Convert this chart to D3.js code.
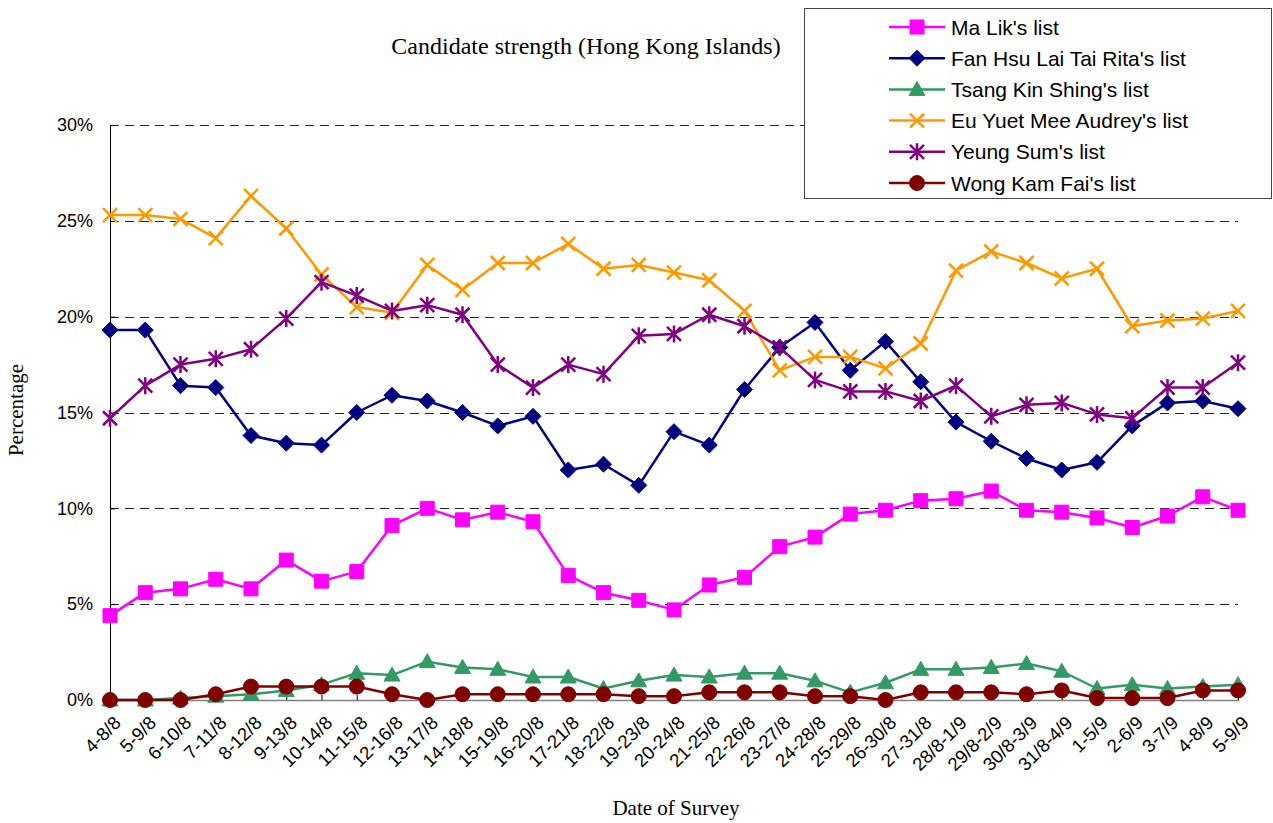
<!DOCTYPE html>
<html><head><meta charset="utf-8">
<script src="https://cdn.jsdelivr.net/npm/d3@7"></script>
<style>body{margin:0;background:#fff}svg{display:block}</style>
</head><body>
<svg id="chart" width="1273" height="823"></svg>
<script>
const categories = ["4-8/8","5-9/8","6-10/8","7-11/8","8-12/8","9-13/8","10-14/8","11-15/8","12-16/8","13-17/8","14-18/8","15-19/8","16-20/8","17-21/8","18-22/8","19-23/8","20-24/8","21-25/8","22-26/8","23-27/8","24-28/8","25-29/8","26-30/8","27-31/8","28/8-1/9","29/8-2/9","30/8-3/9","31/8-4/9","1-5/9","2-6/9","3-7/9","4-8/9","5-9/9"];
const maLik   = [4.4,5.6,5.8,6.3,5.8,7.3,6.2,6.7,9.1,10.0,9.4,9.8,9.3,6.5,5.6,5.2,4.7,6.0,6.4,8.0,8.5,9.7,9.9,10.4,10.5,10.9,9.9,9.8,9.5,9.0,9.6,10.6,9.9];
const fanHsu  = [19.3,19.3,16.4,16.3,13.8,13.4,13.3,15.0,15.9,15.6,15.0,14.3,14.8,12.0,12.3,11.2,14.0,13.3,16.2,18.4,19.7,17.2,18.7,16.6,14.5,13.5,12.6,12.0,12.4,14.3,15.5,15.6,15.2];
const tsang   = [0.0,0.0,0.1,0.2,0.3,0.5,0.8,1.4,1.3,2.0,1.7,1.6,1.2,1.2,0.6,1.0,1.3,1.2,1.4,1.4,1.0,0.4,0.9,1.6,1.6,1.7,1.9,1.5,0.6,0.8,0.6,0.7,0.8];
const euYuet  = [25.3,25.3,25.1,24.1,26.3,24.6,22.2,20.5,20.2,22.7,21.4,22.8,22.8,23.8,22.5,22.7,22.3,21.9,20.3,17.2,17.9,17.9,17.3,18.6,22.4,23.4,22.8,22.0,22.5,19.5,19.8,19.9,20.3];
const yeungSum= [14.7,16.4,17.5,17.8,18.3,19.9,21.8,21.1,20.3,20.6,20.1,17.5,16.3,17.5,17.0,19.0,19.1,20.1,19.5,18.4,16.7,16.1,16.1,15.6,16.4,14.8,15.4,15.5,14.9,14.7,16.3,16.3,17.6];
const wong    = [0.0,0.0,0.0,0.3,0.7,0.7,0.7,0.7,0.3,0.0,0.3,0.3,0.3,0.3,0.3,0.2,0.2,0.4,0.4,0.4,0.2,0.2,0.0,0.4,0.4,0.4,0.3,0.5,0.1,0.1,0.1,0.5,0.5];
const seriesNames = ["Ma Lik's list","Fan Hsu Lai Tai Rita's list","Tsang Kin Shing's list","Eu Yuet Mee Audrey's list","Yeung Sum's list","Wong Kam Fai's list"];
const yTicks = [0,5,10,15,20,25,30];
const yTickLabels = ["0%","5%","10%","15%","20%","25%","30%"];
const titleText = "Candidate strength (Hong Kong Islands)";
const xTitle = "Date of Survey";
const yTitle = "Percentage";

const seriesValues = [maLik, fanHsu, tsang, euYuet, yeungSum, wong];
const styles = [
  {color:"#FF00FF", marker:"square"},
  {color:"#000080", marker:"diamond"},
  {color:"#339966", marker:"triangle"},
  {color:"#FF9900", marker:"x"},
  {color:"#800080", marker:"star"},
  {color:"#800000", marker:"circle"}
];

const svg = d3.select("#chart");
const L = 110, R = 1238, T = 125, B = 700;
const x = d3.scalePoint().domain(categories).range([L, R]);
const y = d3.scaleLinear().domain([0, 30]).range([B, T]);

// gridlines
svg.append("g").selectAll("line").data(yTicks.filter(d => d > 0)).join("line")
  .attr("x1", L).attr("x2", R)
  .attr("y1", d => Math.round(y(d)) + 0.5).attr("y2", d => Math.round(y(d)) + 0.5)
  .attr("stroke", "#222").attr("stroke-width", 1).attr("stroke-dasharray", "9,6");

// y axis
const yAxis = svg.append("g").attr("transform", `translate(${L},0)`)
  .call(d3.axisLeft(y).tickValues(yTicks).tickSize(-5).tickPadding(17)
    .tickFormat((d, i) => yTickLabels[i]));
yAxis.select(".domain").attr("stroke", "#000");
yAxis.selectAll(".tick line").attr("stroke", "#000");
yAxis.selectAll("text").attr("font-family", "Liberation Sans, Arial, sans-serif")
  .attr("font-size", 18).attr("fill", "#000");

// x axis
const xAxis = svg.append("g").attr("transform", `translate(0,${B})`)
  .call(d3.axisBottom(x).tickSize(-5).tickFormat(""));
xAxis.select(".domain").attr("stroke", "#808080").attr("stroke-width", 1.5);
xAxis.selectAll(".tick line").attr("stroke", "#000");
svg.append("g").selectAll("text").data(categories).join("text")
  .attr("transform", d => `translate(${x(d) + 12},${B + 24}) rotate(-45)`)
  .attr("text-anchor", "end")
  .attr("font-family", "Liberation Sans, Arial, sans-serif")
  .attr("font-size", 18.5).attr("fill", "#000")
  .text(d => d);

// markers
function markerPath(type) {
  switch (type) {
    case "square": return "M-7,-7H7V7H-7Z";
    case "diamond": return "M0,-8L8,0L0,8L-8,0Z";
    case "triangle": return "M0,-8L8,6L-8,6Z";
    case "x": return "M-7,-7L7,7M-7,7L7,-7";
    case "star": return "M-7,-7L7,7M-7,7L7,-7M0,-8.5V8.5";
    case "circle": return "M-7.5,0A7.5,7.5 0 1,0 7.5,0A7.5,7.5 0 1,0 -7.5,0Z";
  }
}
function drawMarker(g, type, color) {
  const stroked = (type === "x" || type === "star");
  g.append("path").attr("d", markerPath(type))
    .attr("fill", stroked ? "none" : color)
    .attr("stroke", color)
    .attr("stroke-width", stroked ? 2.5 : 1);
}

const line = d3.line().x((d, i) => x(categories[i])).y(d => y(d));
seriesValues.forEach((vals, si) => {
  const st = styles[si];
  const g = svg.append("g");
  g.append("path").datum(vals).attr("d", line)
    .attr("fill", "none").attr("stroke", st.color).attr("stroke-width", 2.5)
    .attr("stroke-linejoin", "round");
  vals.forEach((v, i) => {
    const mg = g.append("g").attr("transform", `translate(${x(categories[i])},${y(v)})`);
    drawMarker(mg, st.marker, st.color);
  });
});

// legend
const lg = svg.append("g");
lg.append("rect").attr("x", 804.5).attr("y", 8.5).attr("width", 467).attr("height", 190)
  .attr("fill", "#fff").attr("stroke", "#444").attr("stroke-width", 1);
seriesNames.forEach((name, i) => {
  const yy = 27 + i * 31.2;
  const st = styles[i];
  lg.append("line").attr("x1", 889).attr("x2", 945).attr("y1", yy).attr("y2", yy)
    .attr("stroke", st.color).attr("stroke-width", 2.5);
  const mg = lg.append("g").attr("transform", `translate(917,${yy})`);
  drawMarker(mg, st.marker, st.color);
  lg.append("text").attr("x", 951).attr("y", yy).attr("dy", "0.36em")
    .attr("font-family", "Liberation Sans, Arial, sans-serif").attr("font-size", 21)
    .attr("fill", "#000").text(name);
});

// titles
svg.append("text").attr("x", 586).attr("y", 54).attr("text-anchor", "middle")
  .attr("font-family", "Liberation Serif, Times New Roman, serif").attr("font-size", 24)
  .attr("fill", "#000").text(titleText);
svg.append("text").attr("x", 676).attr("y", 815).attr("text-anchor", "middle")
  .attr("font-family", "Liberation Serif, Times New Roman, serif").attr("font-size", 21)
  .attr("fill", "#000").text(xTitle);
svg.append("text").attr("transform", "translate(23,410) rotate(-90)").attr("text-anchor", "middle")
  .attr("font-family", "Liberation Serif, Times New Roman, serif").attr("font-size", 21)
  .attr("fill", "#000").text(yTitle);
</script>
</body></html>
